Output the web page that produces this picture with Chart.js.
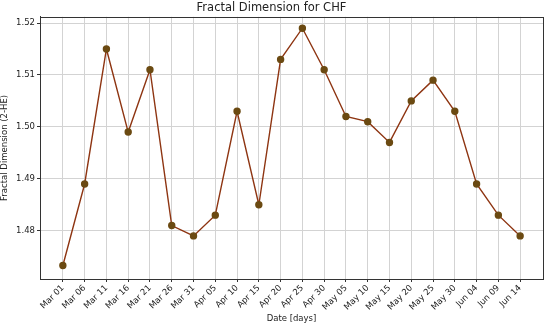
<!DOCTYPE html>
<html>
<head>
<meta charset="utf-8">
<script src="https://cdn.jsdelivr.net/npm/chart.js@4"></script>
<style>
  html, body { margin: 0; padding: 0; background: #fff; }
  #wrap { width: 550px; height: 326px; }
</style>
</head>
<body>
<div id="wrap"><canvas id="fd"></canvas></div>
<script>
// dates are 5 days apart, one point per tick
const dateLabels = ['Mar 01', 'Mar 06', 'Mar 11', 'Mar 16', 'Mar 21', 'Mar 26', 'Mar 31',
  'Apr 05', 'Apr 10', 'Apr 15', 'Apr 20', 'Apr 25', 'Apr 30', 'May 05', 'May 10',
  'May 15', 'May 20', 'May 25', 'May 30', 'Jun 04', 'Jun 09', 'Jun 14'];
const fractalDim = [1.4733, 1.489, 1.515, 1.499, 1.511, 1.481, 1.479, 1.483, 1.503, 1.485,
  1.513, 1.519, 1.511, 1.502, 1.501, 1.497, 1.505, 1.509, 1.503, 1.489, 1.483, 1.479];
const yTicks = [1.48, 1.49, 1.50, 1.51, 1.52];

const font = "'DejaVu Sans', sans-serif";

const frame = {
  id: 'frame',
  afterDraw(chart) {
    const { ctx, chartArea: a } = chart;
    ctx.save();
    ctx.strokeStyle = '#333';
    ctx.lineWidth = 1;
    ctx.strokeRect(Math.round(a.left) + 0.5, Math.round(a.top) + 0.5,
      Math.round(a.right - a.left), Math.round(a.bottom - a.top));
    ctx.restore();
  }
};

const ctx = document.getElementById('fd');
new Chart(ctx, {
  type: 'line',
  data: {
    datasets: [{
      data: fractalDim.map((v, i) => ({ x: i, y: v })),
      borderColor: '#8e3512',
      borderWidth: 1.4,
      pointRadius: 3,
      pointBackgroundColor: '#6b4a12',
      pointBorderColor: '#6b4a12',
      tension: 0
    }]
  },
  options: {
    responsive: true,
    maintainAspectRatio: false,
    animation: false,
    layout: { padding: { right: 7, top: 0, left: 0, bottom: 0 } },
    plugins: {
      legend: { display: false },
      tooltip: { enabled: false },
      title: {
        display: true,
        text: 'Fractal Dimension for CHF',
        color: '#222',
        font: { family: font, size: 11.5, weight: 'normal' },
        padding: { top: 1, bottom: 2 }
      }
    },
    scales: {
      x: {
        type: 'linear',
        min: -1.05,
        max: 22.05,
        afterBuildTicks: (s) => { s.ticks = dateLabels.map((_, i) => ({ value: i })); },
        afterFit: (s) => { s.height = 47; },
        ticks: {
          autoSkip: false,
          minRotation: 45,
          maxRotation: 45,
          color: '#222',
          padding: 1,
          font: { family: font, size: 8.5 },
          callback: (v) => dateLabels[v]
        },
        grid: { color: '#d3d3d3', tickColor: '#333', tickLength: 3 },
        border: { color: '#333' },
        title: {
          display: true,
          text: 'Date [days]',
          color: '#222',
          font: { family: font, size: 8.5 },
          padding: { top: 0, bottom: 2 }
        }
      },
      y: {
        min: 1.4707,
        max: 1.5212,
        afterBuildTicks: (s) => { s.ticks = yTicks.map(v => ({ value: v })); },
        afterFit: (s) => { s.width = 40; },
        ticks: {
          color: '#222',
          padding: 2,
          font: { family: font, size: 8.5 },
          callback: (v) => v.toFixed(2)
        },
        grid: { color: '#d3d3d3', tickColor: '#333', tickLength: 3 },
        border: { color: '#333' },
        title: {
          display: true,
          text: 'Fractal Dimension (2-HE)',
          color: '#222',
          font: { family: font, size: 8.5 },
          padding: { top: 0, bottom: 0 }
        }
      }
    }
  },
  plugins: [frame]
});
</script>
</body>
</html>
